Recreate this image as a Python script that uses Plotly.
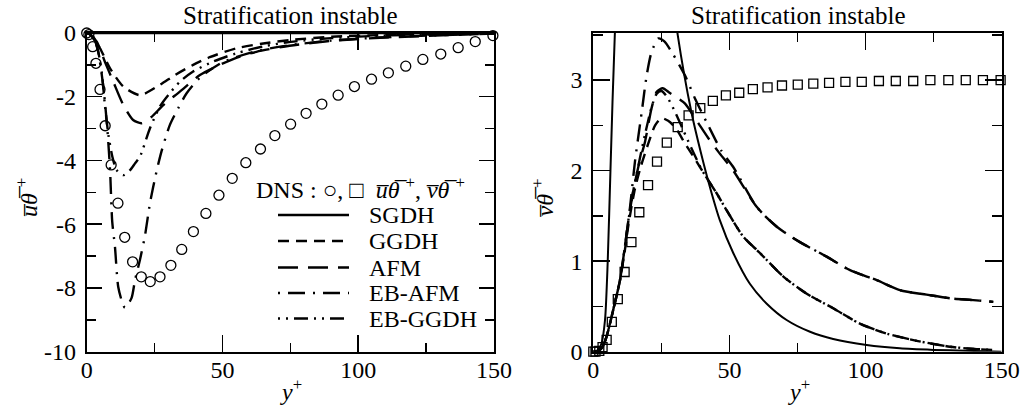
import plotly.graph_objects as go

W, H = 1025, 408

# ---------------- data ----------------
dns_yp = [0.0, 0.8, 2.2, 3.4, 4.9, 6.8, 9.0, 11.5, 14.0, 16.9, 20.1, 23.4, 27.0, 31.0, 35.0,
          39.3, 43.9, 48.7, 53.6, 58.6, 64.0, 69.3, 75.1, 80.8, 86.6, 92.6, 98.6, 104.9, 111.1,
          117.5, 123.8, 130.4, 136.8, 143.1, 149.6]
dns_ut = [0.0, -0.05, -0.43, -0.95, -1.77, -2.91, -4.14, -5.34, -6.41, -7.18, -7.65, -7.80, -7.65,
          -7.29, -6.79, -6.23, -5.66, -5.09, -4.56, -4.07, -3.64, -3.22, -2.86, -2.52, -2.23, -1.95,
          -1.68, -1.45, -1.25, -1.04, -0.83, -0.66, -0.46, -0.27, -0.08]
dns_vt = [0.0, 0.0, 0.01, 0.05, 0.13, 0.33, 0.58, 0.88, 1.21, 1.54, 1.84, 2.10, 2.31, 2.48, 2.61,
          2.69, 2.77, 2.83, 2.86, 2.90, 2.92, 2.94, 2.95, 2.96, 2.97, 2.98, 2.98, 2.99, 2.99, 2.99,
          3.0, 3.0, 3.0, 3.0, 3.0]

# u-theta (left panel)
ut_sgdh_y = [0, 150]
ut_sgdh = [0, 0]
ut_ggdh_y = [0, 1, 2.4, 4.9, 8.6, 13.5, 19.6, 26.9, 32.5, 39.2, 45.3, 55.1, 65, 75, 90, 110, 130, 150]
ut_ggdh = [0, -0.03, -0.17, -0.48, -1.11, -1.68, -1.95, -1.63, -1.32, -1.0, -0.76, -0.48, -0.33,
           -0.22, -0.12, -0.06, -0.03, 0]
ut_afm_y = [0, 1, 3.7, 6.7, 9.8, 13.5, 17.1, 20.2, 23.9, 28.2, 34.3, 41.7, 49, 56.4, 62.5, 74.7,
            89.5, 108, 126, 150]
ut_afm = [0, -0.03, -0.27, -0.9, -1.53, -2.26, -2.73, -2.83, -2.63, -2.26, -1.84, -1.32, -1.0,
          -0.74, -0.59, -0.4, -0.25, -0.15, -0.09, -0.02]
ut_ebafm_y = [0, 2, 4, 6, 7.5, 8.6, 9.4, 10.4, 11.6, 13.2, 14.1, 16.5, 17.8, 19.6, 21.4, 23.3, 25.7,
              27.6, 30.6, 33.7, 36.8, 41.7, 50, 62, 75, 90, 108, 126, 150]
ut_ebafm = [0, -0.05, -0.5, -1.6, -2.9, -4.3, -5.92, -6.7, -7.96, -8.48, -8.62, -8.32, -7.75, -7.12,
            -6.39, -5.34, -4.35, -3.7, -2.89, -2.36, -1.89, -1.40, -0.92, -0.58, -0.38, -0.24,
            -0.14, -0.08, -0.02]
ut_ebggdh_y = [0, 2, 4, 5.5, 6.7, 8, 9.5, 11, 13.5, 16, 17.8, 19.6, 23.3, 27, 30, 34.3, 39.2, 46.5,
               55, 65, 75, 90, 110, 130, 150]
ut_ebggdh = [0, -0.05, -0.5, -1.21, -2.26, -3.2, -3.9, -4.3, -4.46, -4.3, -4.09, -3.88, -2.99,
             -2.30, -1.95, -1.53, -1.21, -0.9, -0.64, -0.42, -0.28, -0.16, -0.08, -0.04, -0.01]

# v-theta (right panel)
vt_sgdh_y = [0, 1, 2, 3, 4.3, 5.3, 6.3, 7.9, 10, 14, 18, 22, 26, 31, 36, 39.5, 43, 46.5, 51.4, 57.5,
             63.7, 71, 79.6, 88.1, 100.4, 112.6, 124.9, 137, 150]
vt_sgdh = [0, 0.005, 0.03, 0.09, 0.35, 1.0, 2.0, 3.5, 4.6, 5.6, 5.9, 5.6, 4.7, 3.5, 2.65, 2.2, 1.8,
           1.45, 1.09, 0.75, 0.53, 0.35, 0.22, 0.14, 0.074, 0.037, 0.02, 0.01, 0.0]
vt_ggdh_y = [0, 2, 3.5, 4.9, 7.3, 9.8, 11.6, 12.9, 15.3, 17.5, 20.2, 22.7, 25, 27.5, 30, 33.7, 37.3,
             41, 45.3, 49, 55.1, 61.2, 69.8, 78.4, 88.1, 97.9, 107.7, 118.8, 131, 140, 146.9]
vt_ggdh = [0, 0.01, 0.06, 0.17, 0.46, 0.79, 1.12, 1.4, 1.8, 2.05, 2.3, 2.5, 2.58, 2.55, 2.48, 2.3,
           2.13, 1.95, 1.75, 1.56, 1.27, 1.09, 0.83, 0.64, 0.48, 0.31, 0.2, 0.12, 0.055, 0.03, 0.02]
vt_afm_y = [0, 2, 3.5, 4.9, 7.3, 9.8, 11.6, 12.9, 14.7, 17, 19, 21.4, 23.3, 25.5, 28, 31, 33.7, 38,
            42.2, 45.9, 51.4, 60, 67.4, 75.9, 85.7, 94.3, 104.1, 112.6, 122.4, 131, 139.6, 146.9]
vt_afm = [0, 0.01, 0.06, 0.17, 0.46, 0.79, 1.16, 1.45, 1.78, 2.1, 2.32, 2.69, 2.87, 2.91, 2.86, 2.8,
          2.74, 2.55, 2.36, 2.21, 2.0, 1.6, 1.38, 1.21, 1.05, 0.9, 0.79, 0.68, 0.63, 0.59, 0.57, 0.55]
vt_ebafm_y = [0, 2, 3.5, 4.9, 7.3, 9.8, 11.6, 13.5, 15.3, 17.8, 19.6, 21.4, 23.9, 26, 28.8, 33.7,
              37.3, 42.2, 47, 51.4, 60, 67.4, 75.9, 85.7, 94.3, 104.1, 112.6, 122.4, 131, 139.6, 146.9]
vt_ebafm = [0, 0.01, 0.06, 0.17, 0.46, 0.79, 1.16, 1.6, 2.1, 2.65, 3.05, 3.31, 3.46, 3.43, 3.31,
            3.05, 2.8, 2.5, 2.22, 2.04, 1.6, 1.38, 1.21, 1.05, 0.9, 0.79, 0.68, 0.63, 0.59, 0.57, 0.55]
vt_ebggdh_y = [0, 2, 3.5, 4.9, 7.3, 9.8, 11.6, 12.9, 14.7, 17, 19, 21.4, 23.3, 25, 27, 30, 33, 36,
               40, 45.3, 49, 55.1, 61.2, 69.8, 78.4, 88.1, 97.9, 107.7, 118.8, 131, 140, 146.9]
vt_ebggdh = [0, 0.01, 0.06, 0.17, 0.46, 0.79, 1.16, 1.45, 1.78, 2.12, 2.4, 2.7, 2.85, 2.88, 2.82,
             2.65, 2.45, 2.25, 2.0, 1.75, 1.56, 1.27, 1.09, 0.83, 0.64, 0.48, 0.31, 0.2, 0.12, 0.055,
             0.03, 0.02]

model_names = ["SGDH", "GGDH", "AFM", "EB-AFM", "EB-GGDH"]
x_ticks = [0, 50, 100, 150]
x_ticktext = ["0", "50", "100", "150"]
yl_ticks = [-10, -8, -6, -4, -2, 0]
yl_ticktext = ["-10", "-8", "-6", "-4", "-2", "0"]
yr_ticks = [0, 1, 2, 3]
yr_ticktext = ["0", "1", "2", "3"]
panel_title = "Stratification instable"

# ---------------- style ----------------
FONT = "Liberation Serif"
dashes = ["solid", "11px,7px", "20px,10px", "2px,8px,17px,8px", "2px,6px,2px,6px,14px,6px"]
LW = 2.4

def px(x):
    return x / W

def py(y):
    return 1 - y / H

fig = go.Figure()

left_curves = [(ut_sgdh_y, ut_sgdh), (ut_ggdh_y, ut_ggdh), (ut_afm_y, ut_afm),
               (ut_ebafm_y, ut_ebafm), (ut_ebggdh_y, ut_ebggdh)]
right_curves = [(vt_sgdh_y, vt_sgdh), (vt_ggdh_y, vt_ggdh), (vt_afm_y, vt_afm),
                (vt_ebafm_y, vt_ebafm), (vt_ebggdh_y, vt_ebggdh)]

for i, (xs, ys) in enumerate(left_curves):
    fig.add_trace(go.Scatter(x=xs, y=ys, mode="lines", name=model_names[i], showlegend=False,
                             line=dict(color="black", width=LW, dash=dashes[i], shape="spline",
                                       smoothing=0.7),
                             xaxis="x", yaxis="y"))
for i, (xs, ys) in enumerate(right_curves):
    fig.add_trace(go.Scatter(x=xs, y=ys, mode="lines", name=model_names[i], showlegend=False,
                             line=dict(color="black", width=LW if i else 2.0, dash=dashes[i],
                                       shape="spline", smoothing=0.7),
                             xaxis="x2", yaxis="y2"))

fig.add_trace(go.Scatter(x=dns_yp, y=dns_ut, mode="markers", showlegend=False, cliponaxis=False,
                         marker=dict(symbol="circle-open", size=10, color="black",
                                     line=dict(width=1.3, color="black")),
                         xaxis="x", yaxis="y"))
fig.add_trace(go.Scatter(x=dns_yp, y=dns_vt, mode="markers", showlegend=False, cliponaxis=False,
                         marker=dict(symbol="square-open", size=9, color="black",
                                     line=dict(width=1.3, color="black")),
                         xaxis="x2", yaxis="y2"))

ydom = [py(351.7), py(33)]
common = dict(showline=True, linecolor="black", linewidth=2, mirror="ticks", ticks="inside",
              tickwidth=1.5, tickcolor="black", showgrid=False, zeroline=False, automargin=False,
              tickfont=dict(family=FONT, size=24, color="black"))
xcommon = dict(common, range=[0, 150], tickvals=x_ticks, ticktext=x_ticktext, ticklen=17,
               ticklabelstandoff=-5,
               minor=dict(ticks="inside", ticklen=9, dtick=25, tick0=0, tickwidth=1.5,
                          tickcolor="black", showgrid=False))
fig.update_layout(
    template="none",
    width=W, height=H,
    margin=dict(l=0, r=0, t=0, b=0, autoexpand=False),
    paper_bgcolor="white", plot_bgcolor="white",
    xaxis=dict(xcommon, domain=[px(86.7), px(494)], anchor="y"),
    yaxis=dict(common, domain=ydom, anchor="x", range=[-10, 0], tickvals=yl_ticks,
               ticktext=yl_ticktext, ticklen=15, ticklabelstandoff=4,
               minor=dict(ticks="inside", ticklen=9, dtick=1, tick0=0, tickwidth=1.5,
                          tickcolor="black", showgrid=False)),
    xaxis2=dict(xcommon, domain=[px(593.3), px(1001.7)], anchor="y2"),
    yaxis2=dict(common, domain=ydom, anchor="x2", range=[0, 3.52], tickvals=yr_ticks,
                ticktext=yr_ticktext, ticklen=17, ticklabelstandoff=4,
                minor=dict(ticks="inside", ticklen=10, dtick=0.5, tick0=0, tickwidth=1.5,
                           tickcolor="black", showgrid=False)),
    showlegend=False,
)

ann_font = dict(family=FONT, size=24, color="black")
annotations = [
    dict(text=panel_title, x=px(290.5), y=py(16), font=dict(family=FONT, size=25, color="black")),
    dict(text=panel_title, x=px(798.5), y=py(16), font=dict(family=FONT, size=25, color="black")),
    dict(text="<i>y</i><sup>+</sup>", x=px(291), y=py(390), font=ann_font),
    dict(text="<i>y</i><sup>+</sup>", x=px(799), y=py(390), font=ann_font),
    dict(text="<i>u\u0305θ\u0305</i> <sup>+</sup>", x=px(27), y=py(198), textangle=-90, font=ann_font),
    dict(text="<i>v\u0305θ\u0305</i> <sup>+</sup>", x=px(543), y=py(198), textangle=-90, font=ann_font),
    dict(text="DNS : ○, □  <i>u\u0305θ\u0305</i> <sup>+</sup>, <i>v\u0305θ\u0305</i> <sup>+</sup>",
         x=px(467), y=py(188), xanchor="right", font=ann_font),
]
for a in annotations:
    a.setdefault("xanchor", "center")
    a.update(xref="paper", yref="paper", showarrow=False, yanchor="middle")
    fig.add_annotation(**a)

# legend (drawn manually to get long line samples)
rows = [215, 241, 267.5, 293, 318.5]
for i, name in enumerate(model_names):
    fig.add_shape(type="line", xref="paper", yref="paper", x0=px(278), x1=px(349),
                  y0=py(rows[i]), y1=py(rows[i]),
                  line=dict(color="black", width=LW, dash=dashes[i]))
    fig.add_annotation(text=name, xref="paper", yref="paper", x=px(367), y=py(rows[i]),
                       xanchor="left", yanchor="middle", showarrow=False, font=ann_font)

fig.write_html("out.html", config={"displayModeBar": False, "staticPlot": True},
               post_script="document.body.style.margin='0';document.body.style.overflow='hidden';")
